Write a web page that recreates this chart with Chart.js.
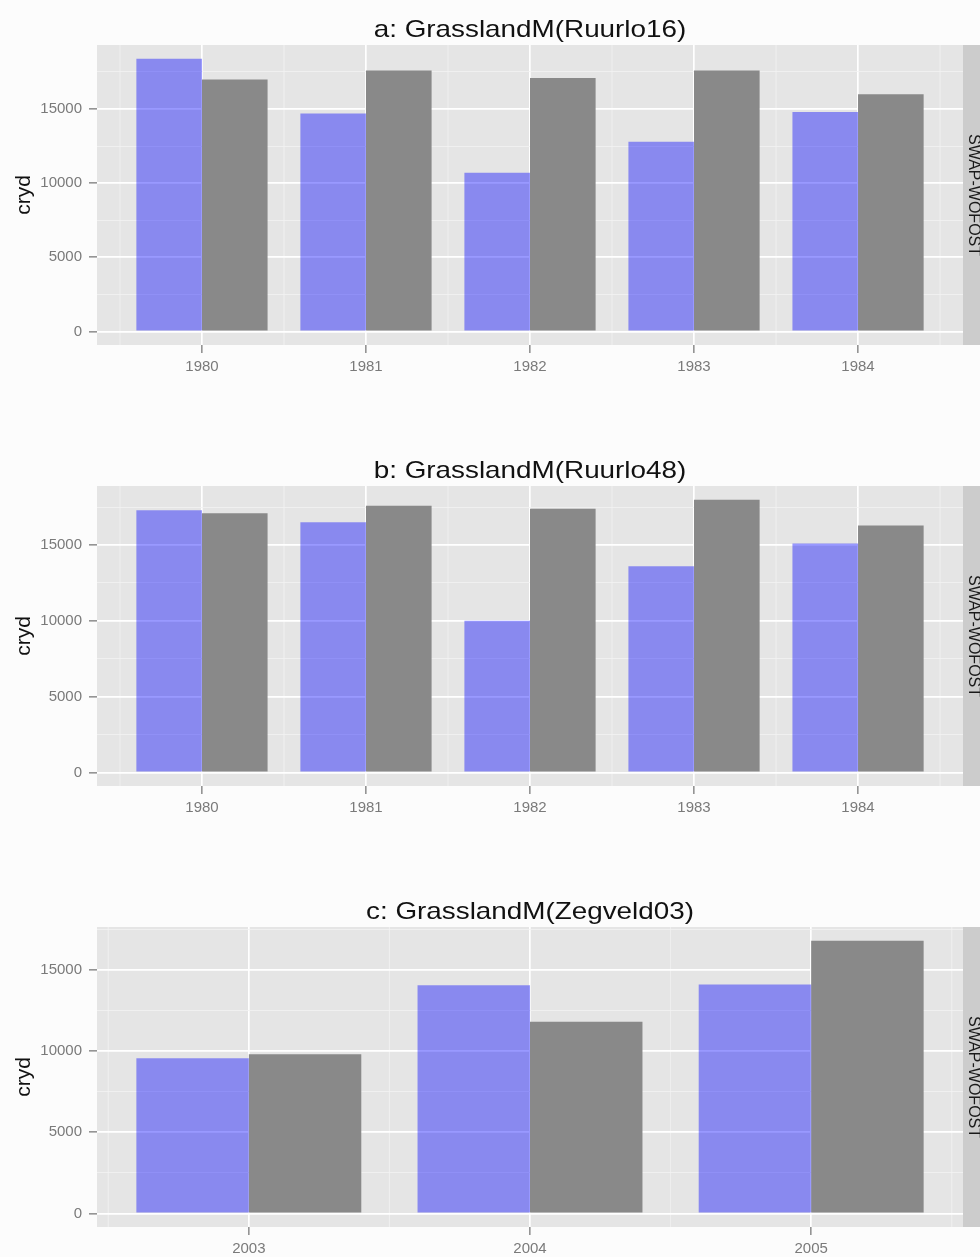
<!DOCTYPE html>
<html>
<head>
<meta charset="utf-8">
<script src="https://cdn.jsdelivr.net/npm/chart.js@4/dist/chart.umd.min.js"></script>
<style>
html, body { margin: 0; padding: 0; background: #fcfcfc; width: 980px; height: 1257px; overflow: hidden; }
.panel { position: absolute; left: 0; width: 980px; height: 440px; }
canvas { display: block; }
</style>
</head>
<body>
<div class="panel" style="top:0px"><canvas id="cA" width="980" height="440"></canvas></div>
<div class="panel" style="top:441px"><canvas id="cB" width="980" height="440"></canvas></div>
<div class="panel" style="top:882px"><canvas id="cC" width="980" height="440"></canvas></div>
<script>
// ---- data ----
const titleA = 'a: GrasslandM(Ruurlo16)';
const titleB = 'b: GrasslandM(Ruurlo48)';
const titleC = 'c: GrasslandM(Zegveld03)';
const stripLabel = 'SWAP-WOFOST';
const yLabel = 'cryd';

const yearsA = [1980, 1981, 1982, 1983, 1984];
const blueA  = [18400, 14700, 10700, 12800, 14800];
const grayA  = [17000, 17600, 17100, 17600, 16000];

const yearsB = [1980, 1981, 1982, 1983, 1984];
const blueB  = [17300, 16500, 10000, 13600, 15100];
const grayB  = [17100, 17600, 17400, 18000, 16300];

const yearsC = [2003, 2004, 2005];
const blueC  = [9550, 14050, 14100];
const grayC  = [9800, 11800, 16800];

const yTicks = [0, 5000, 10000, 15000];

// ---- styling ----
const FONT = '"Liberation Sans", Arial, Helvetica, sans-serif';
const AXIS_GREY = '#7a7a7a';

const ggPlugin = {
  id: 'gg',
  beforeDraw(chart) {
    const { ctx, chartArea: a, scales } = chart;
    const o = chart.options.plugins.gg;
    ctx.save();
    ctx.fillStyle = '#e5e5e5';
    ctx.fillRect(a.left, a.top, a.right - a.left, a.bottom - a.top);
    ctx.fillStyle = '#cccccc';
    ctx.fillRect(a.right, a.top, 40, a.bottom - a.top);
    // minor vertical grid lines (half-way between years)
    ctx.strokeStyle = '#f2f2f2';
    ctx.lineWidth = 0.8;
    o.xMinor.forEach(v => {
      const px = scales.x.getPixelForValue(v);
      if (px < a.left || px > a.right) return;
      ctx.beginPath();
      ctx.moveTo(px, a.top);
      ctx.lineTo(px, a.bottom);
      ctx.stroke();
    });
    ctx.restore();
  },
  afterDraw(chart) {
    const { ctx, chartArea: a } = chart;
    const o = chart.options.plugins.gg;
    const cy = (a.top + a.bottom) / 2;
    ctx.save();
    ctx.fillStyle = '#111111';
    ctx.font = '24px ' + FONT;
    ctx.textAlign = 'center';
    ctx.textBaseline = 'alphabetic';
    ctx.translate((a.left + a.right) / 2, a.top - 8);
    ctx.scale(1.16, 1);
    ctx.fillText(o.title, 0, 0);
    ctx.restore();

    ctx.save();
    ctx.fillStyle = '#111111';
    ctx.font = '21px ' + FONT;
    ctx.textAlign = 'center';
    ctx.textBaseline = 'alphabetic';
    ctx.translate(30, cy);
    ctx.rotate(-Math.PI / 2);
    ctx.fillText(o.ylabel, 0, 0);
    ctx.restore();

    ctx.save();
    ctx.fillStyle = '#1a1a1a';
    ctx.font = '16px ' + FONT;
    ctx.textAlign = 'center';
    ctx.textBaseline = 'alphabetic';
    ctx.translate(a.right + 6, cy);
    ctx.rotate(Math.PI / 2);
    ctx.fillText(o.strip, 0, 0);
    ctx.restore();
  }
};

function makeChart(id, title, years, blue, gray) {
  const maxV = Math.max(...blue, ...gray);
  const yMin = -0.05 * maxV, yMax = 1.05 * maxV;
  const lo = years[0] - 0.4, hi = years[years.length - 1] + 0.4;
  const xPad = (hi - lo) * 0.05;
  const xMin = lo - xPad, xMax = hi + xPad;

  const xMinor = years.map(y => y - 0.5).concat([years[years.length - 1] + 0.5]);
  const xMajor = v => years.includes(v);

  const step = yTicks[1] - yTicks[0];
  const yAll = [];
  yTicks.forEach(v => { yAll.push(v); if (v + step / 2 <= yMax) yAll.push(v + step / 2); });
  if (yTicks[0] - step / 2 >= yMin) yAll.push(yTicks[0] - step / 2);
  yAll.sort((p, q) => p - q);
  const yMajor = v => yTicks.includes(v);

  const gridOpts = (isMajor) => ({
    display: true,
    drawOnChartArea: true,
    drawTicks: true,
    offset: false,
    tickLength: 8,
    color: c => (c.tick && isMajor(c.tick.value)) ? '#ffffff' : '#f2f2f2',
    lineWidth: c => (c.tick && isMajor(c.tick.value)) ? 1.7 : 0.8,
    tickColor: c => (c.tick && isMajor(c.tick.value)) ? AXIS_GREY : 'rgba(0,0,0,0)',
    tickWidth: 1.3
  });

  return new Chart(document.getElementById(id), {
    type: 'bar',
    data: {
      datasets: [
        { label: 'blue', data: years.map((x, i) => ({ x: x, y: blue[i] })),
          backgroundColor: 'rgba(0,0,255,0.4)', borderWidth: 0,
          categoryPercentage: 0.8, barPercentage: 1.0 },
        { label: 'grey', data: years.map((x, i) => ({ x: x, y: gray[i] })),
          backgroundColor: '#898989', borderWidth: 0,
          categoryPercentage: 0.8, barPercentage: 1.0 }
      ]
    },
    options: {
      responsive: false,
      animation: false,
      layout: { padding: { left: 0, right: 17, top: 45, bottom: 0 } },
      plugins: {
        legend: { display: false },
        tooltip: { enabled: false },
        title: { display: false },
        gg: { title: title, ylabel: yLabel, strip: stripLabel, xMinor: xMinor }
      },
      scales: {
        x: {
          type: 'linear',
          offset: false,
          min: xMin, max: xMax,
          border: { display: false },
          grid: gridOpts(xMajor),
          afterBuildTicks: s => { s.ticks = years.map(v => ({ value: v })); },
          afterFit: s => { s.height = 95; },
          ticks: {
            autoSkip: false, maxRotation: 0, minRotation: 0,
            padding: 5, color: AXIS_GREY,
            font: { family: FONT, size: 15 },
            callback: v => String(v)
          }
        },
        y: {
          type: 'linear',
          min: yMin, max: yMax,
          border: { display: false },
          grid: gridOpts(yMajor),
          afterBuildTicks: s => { s.ticks = yAll.map(v => ({ value: v })); },
          afterFit: s => { s.width = 97; },
          ticks: {
            autoSkip: false,
            padding: 7, color: AXIS_GREY,
            font: { family: FONT, size: 15 },
            callback: v => yMajor(v) ? String(v) : ''
          }
        }
      }
    },
    plugins: [ggPlugin]
  });
}

makeChart('cA', titleA, yearsA, blueA, grayA);
makeChart('cB', titleB, yearsB, blueB, grayB);
makeChart('cC', titleC, yearsC, blueC, grayC);
</script>
</body>
</html>
